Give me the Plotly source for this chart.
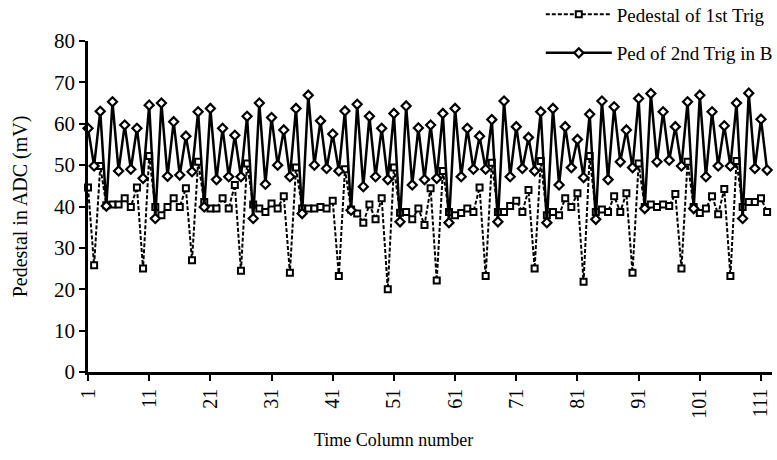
import plotly.graph_objects as go

columns = list(range(1, 113))

ped_1st_trig = [
    44.6, 25.8, 49.8, 40.3, 40.5, 40.5, 42.0, 39.9, 44.6, 25.0,
    52.2, 39.9, 37.9, 39.9, 42.0, 39.9, 44.4, 27.0, 50.8, 41.1,
    39.5, 39.5, 42.0, 39.5, 45.2, 24.5, 50.4, 40.5, 39.5, 38.7,
    40.7, 39.5, 42.5, 24.0, 49.4, 39.5, 39.5, 39.5, 39.9, 39.5,
    41.4, 23.2, 49.0, 39.3, 38.3, 36.1, 40.5, 36.9, 42.0, 20.0,
    49.4, 38.5, 38.7, 36.9, 39.5, 35.5, 44.4, 22.1, 48.6, 38.7,
    37.9, 38.4, 39.5, 38.7, 44.6, 23.2, 50.6, 38.7, 38.7, 40.1,
    41.4, 38.7, 44.0, 25.0, 51.0, 37.9, 38.7, 37.9, 42.0, 39.9,
    43.2, 21.8, 52.2, 38.7, 39.3, 38.7, 42.5, 38.7, 43.2, 24.0,
    50.4, 39.9, 40.5, 39.9, 40.5, 40.1, 43.0, 25.0, 50.8, 39.9,
    38.4, 39.5, 42.5, 38.1, 44.2, 23.2, 51.0, 39.9, 41.1, 41.1,
    42.0, 38.7,
]

ped_2nd_trig = [
    58.9, 49.8, 63.0, 40.1, 65.3, 48.6, 59.7, 49.0, 58.9, 46.8,
    64.5, 37.1, 65.0, 47.3, 60.5, 47.6, 57.0, 48.4, 62.9, 39.9,
    63.7, 46.5, 58.9, 47.2, 57.2, 47.2, 61.8, 37.1, 65.0, 45.4,
    61.5, 50.0, 58.5, 47.2, 63.7, 38.3, 66.9, 50.0, 60.7, 49.2,
    57.5, 48.6, 63.1, 39.1, 64.7, 44.8, 61.8, 47.2, 58.9, 46.5,
    62.5, 36.3, 64.3, 45.2, 59.0, 46.5, 59.7, 46.8, 62.5, 36.1,
    63.7, 47.2, 58.9, 49.0, 57.0, 49.0, 61.0, 36.3, 65.5, 47.2,
    59.3, 49.2, 56.7, 48.6, 62.9, 36.1, 63.7, 45.2, 59.3, 49.4,
    56.2, 47.0, 62.3, 36.9, 65.5, 46.5, 64.1, 50.8, 58.5, 49.4,
    66.1, 39.5, 67.3, 50.8, 62.9, 51.2, 59.3, 49.8, 65.3, 39.5,
    66.9, 47.2, 62.9, 49.8, 59.5, 49.8, 65.0, 37.1, 67.4, 49.2,
    61.1, 48.8,
]

x_ticks = list(range(1, 112, 10))
y_ticks = list(range(0, 81, 10))

FONT = "Liberation Serif"

fig = go.Figure()
fig.add_trace(go.Scatter(
    x=columns, y=ped_1st_trig, name="Pedestal of 1st Trig",
    mode="lines+markers",
    line=dict(color="black", width=2, dash="4px,2px"),
    marker=dict(symbol="square", size=6, color="white", line=dict(width=2, color="black")),
    cliponaxis=False, legendgroup="a",
))
fig.add_trace(go.Scatter(
    x=columns, y=ped_2nd_trig, name="Ped of 2nd Trig in B",
    mode="lines+markers",
    line=dict(color="black", width=2.5),
    marker=dict(symbol="diamond", size=7, color="white", line=dict(width=2.2, color="black")),
    cliponaxis=False, legendgroup="b",
))

fig.update_layout(
    width=777, height=460,
    margin=dict(l=88, r=5, t=41, b=88, autoexpand=False),
    paper_bgcolor="white", plot_bgcolor="white",
    font=dict(family=FONT, color="black", size=18),
    showlegend=True,
    legend=dict(xref="paper", yref="paper", x=0.662, y=1.138, xanchor="left", yanchor="top",
                font=dict(size=19, family=FONT), bgcolor="rgba(0,0,0,0)", itemwidth=66,
                tracegroupgap=11, traceorder="grouped"),
    xaxis=dict(
        range=[1, 112.8], tickvals=x_ticks, ticktext=[str(v) for v in x_ticks],
        tickangle=-90, ticks="outside", ticklen=6, tickwidth=2, tickcolor="black",
        showline=True, linecolor="black", linewidth=2.5, showgrid=False, zeroline=False,
        tickfont=dict(size=20, family=FONT),
    ),
    yaxis=dict(
        range=[0, 80], tickvals=y_ticks, ticks="outside", ticklen=6, tickwidth=2, tickcolor="black",
        showline=True, linecolor="black", linewidth=2.5, showgrid=False, zeroline=False,
        tickfont=dict(size=21, family=FONT),
        title=dict(text="Pedestal in ADC (mV)", font=dict(size=20, family=FONT), standoff=22),
    ),
    annotations=[dict(
        text="Time Column number", xref="paper", yref="paper", x=0.447, y=-0.205,
        xanchor="center", yanchor="middle", showarrow=False,
        font=dict(size=18, family=FONT),
    )],
)

fig.write_html("out.html", config={"displayModeBar": False},
               post_script="document.body.style.margin='0';")
